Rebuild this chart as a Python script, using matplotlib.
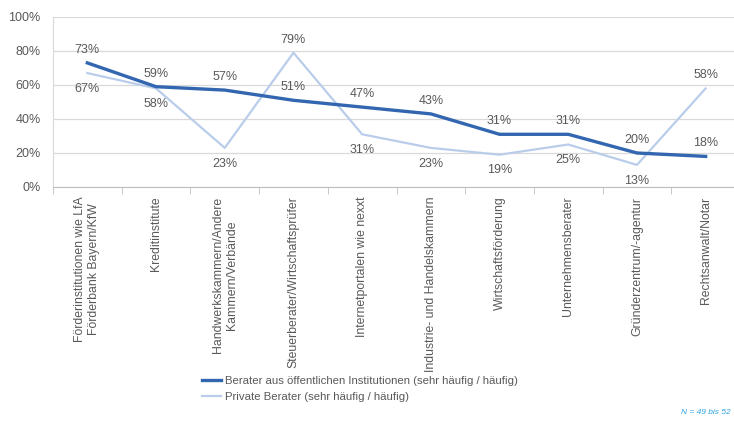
import matplotlib
matplotlib.use("Agg")
import matplotlib.pyplot as plt
import numpy as np

categories = [
    "Förderinstitutionen wie LfA\nFörderbank Bayern/KfW",
    "Kreditinstitute",
    "Handwerkskammern/Andere\nKammern/Verbände",
    "Steuerberater/Wirtschaftsprüfer",
    "Internetportalen wie nexxt",
    "Industrie- und Handelskammern",
    "Wirtschaftsförderung",
    "Unternehmensberater",
    "Gründerzentrum/-agentur",
    "Rechtsanwalt/Notar",
]
public = [73, 59, 57, 51, 47, 43, 31, 31, 20, 18]
private = [67, 58, 23, 79, 31, 23, 19, 25, 13, 58]
yticks = [0, 20, 40, 60, 80, 100]

plt.rcParams['font.family'] = ['Liberation Sans', 'DejaVu Sans']
gray = '#595959'
dark = '#3366B0'
light = '#B9CDEA'

fig = plt.figure(figsize=(7.34, 4.21), dpi=100)
W, H = 734, 421
ax = fig.add_axes([53 / W, 1 - 187 / H, (740 - 53) / W, (187 - 17) / H])
x = np.arange(len(categories))
ax.plot(x, private, color=light, lw=1.6, label="Private Berater (sehr häufig / häufig)", zorder=3)
ax.plot(x, public, color=dark, lw=2.4, label="Berater aus öffentlichen Institutionen (sehr häufig / häufig)", zorder=4)

for i in range(len(x)):
    ax.annotate(f"{public[i]}%", (x[i], public[i]), xytext=(0, 5), textcoords='offset points',
                ha='center', va='bottom', fontsize=9, color=gray)
    if private[i] > public[i]:
        ax.annotate(f"{private[i]}%", (x[i], private[i]), xytext=(0, 5), textcoords='offset points',
                    ha='center', va='bottom', fontsize=9, color=gray)
    else:
        ax.annotate(f"{private[i]}%", (x[i], private[i]), xytext=(0, -7), textcoords='offset points',
                    ha='center', va='top', fontsize=9, color=gray)

ax.set_xlim(-0.5, len(categories) - 0.5)
ax.set_ylim(0, 100)
ax.set_yticks(yticks)
ax.set_yticklabels([f"{v}%" for v in yticks], fontsize=9, color=gray)
ax.yaxis.grid(True, color='#D9D9D9', lw=0.9)
ax.set_axisbelow(True)
for s in ['top', 'right']:
    ax.spines[s].set_visible(False)
ax.spines['left'].set_color('#D9D9D9')
ax.spines['bottom'].set_color('#BFBFBF')
ax.tick_params(axis='y', length=0, pad=9)
ax.set_xticks(x)
ax.set_xticklabels(categories, rotation=90, fontsize=8.8, color=gray, va='top', ha='center',
                   multialignment='center')
ax.tick_params(axis='x', length=0, pad=7)
ax.set_xticks(np.arange(-0.5, len(categories), 1), minor=True)
ax.tick_params(axis='x', which='minor', length=5, color='#BFBFBF')

handles, labels = ax.get_legend_handles_labels()
leg = fig.legend(handles[::-1], labels[::-1], loc='upper left', bbox_to_anchor=(202 / W, 1 - 376 / H),
                 frameon=False, fontsize=8.2, handlelength=1.7, handletextpad=0.3, labelspacing=0.5,
                 borderaxespad=0, borderpad=0)
for t in leg.get_texts():
    t.set_color(gray)

fig.text(731 / W, 1 - 413 / H, "N = 49 bis 52", ha='right', va='center', fontsize=6,
         color='#2FA4E0', style='italic')

fig.savefig("out.png", dpi=100)
